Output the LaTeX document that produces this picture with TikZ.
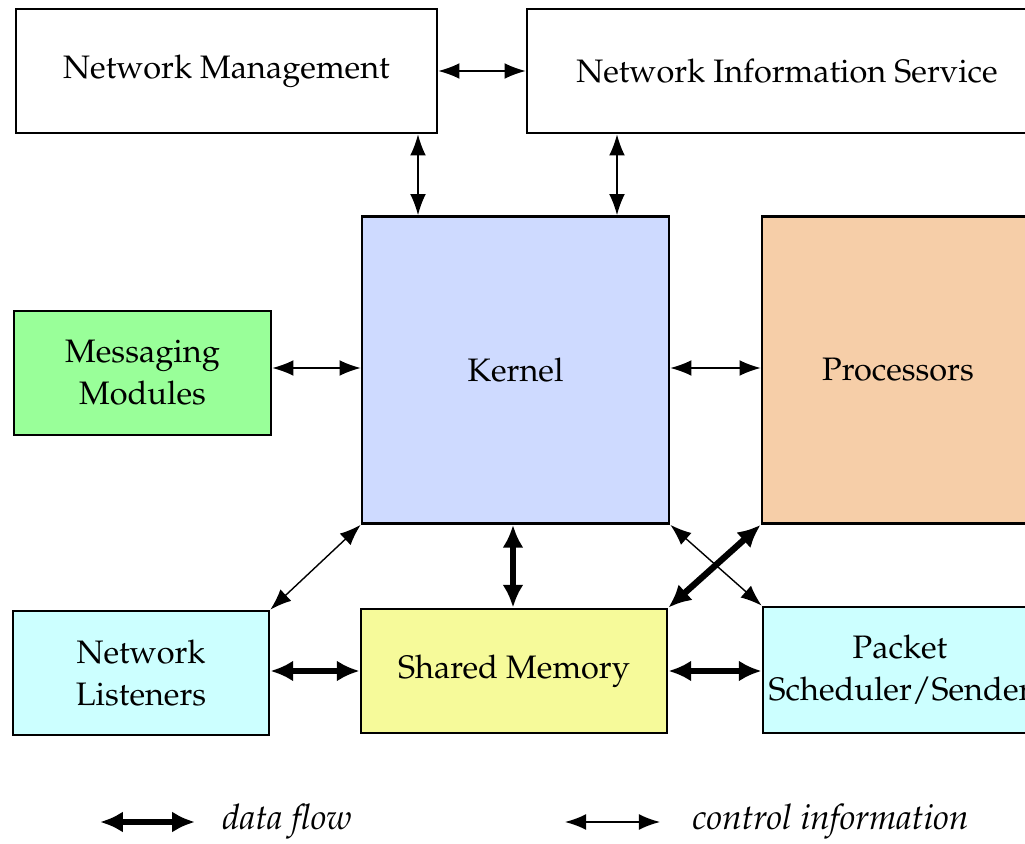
\documentclass[tikz,border=0pt]{standalone}
\usepackage[T1]{fontenc}
\usepackage{mathpazo}
\usetikzlibrary{arrows.meta}
\definecolor{kernelc}{RGB}{206,218,255}
\definecolor{procc}{RGB}{246,206,168}
\definecolor{msgc}{RGB}{153,255,153}
\definecolor{cyanc}{RGB}{204,255,255}
\definecolor{shmc}{RGB}{246,250,154}
\begin{document}
\begin{tikzpicture}[x=0.02cm,y=-0.02cm,
 box/.style={draw, line width=1.6pt, align=center, font=\fontsize{18.5}{24}\selectfont, inner sep=0pt},
 ctl/.style={{Latex[length=12pt,width=9pt]}-{Latex[length=12pt,width=9pt]}, line width=0.8pt},
 dat/.style={{Latex[length=13pt,width=12pt]}-{Latex[length=13pt,width=12pt]}, line width=3.6pt},
 lbl/.style={font=\fontsize{20}{24}\selectfont\itshape, anchor=west, inner sep=0pt}]
\useasboundingbox (0,0) rectangle (1025,844);
\clip (0,0) rectangle (1025,844);
\node[box, minimum width=8.42cm, minimum height=2.48cm] (nm) at (226.5,71) {Network Management};
\node[box, minimum width=10.4cm, minimum height=2.48cm] (nis) at (787,71) {Network Information Service};
\node[box, fill=kernelc, minimum width=6.14cm, minimum height=6.14cm] (kernel) at (515.5,370) {Kernel};
\node[box, fill=procc, minimum width=5.44cm, minimum height=6.14cm] (proc) at (898,370) {Processors};
\node[box, fill=msgc, minimum width=5.14cm, minimum height=2.48cm] (mm) at (142.5,373) {Messaging\\Modules};
\node[box, fill=cyanc, minimum width=5.12cm, minimum height=2.48cm] (nl) at (141,673) {Network\\Listeners};
\node[box, fill=shmc, minimum width=6.12cm, minimum height=2.48cm] (sm) at (514,671) {Shared Memory};
\node[box, fill=cyanc, minimum width=5.48cm, minimum height=2.52cm] (ps) at (900,670) {Packet\\Scheduler/Sender};
\coordinate (c1) at (418,0);
\coordinate (c2) at (617,0);
\coordinate (c3) at (0,368);
\coordinate (c4) at (513,0);
\coordinate (c5) at (0,671);
\draw[ctl] (nm.east) -- (nis.west);
\draw[ctl] (nm.south -| c1) -- (kernel.north -| c1);
\draw[ctl] (nis.south -| c2) -- (kernel.north -| c2);
\draw[ctl] (mm.east |- c3) -- (kernel.west |- c3);
\draw[ctl] (kernel.east |- c3) -- (proc.west |- c3);
\draw[ctl] (kernel.south west) -- (nl.north east);
\draw[ctl] (kernel.south east) -- (ps.north west);
\draw[dat] (kernel.south -| c4) -- (sm.north -| c4);
\draw[dat] (proc.south west) -- (sm.north east);
\draw[dat] (nl.east |- c5) -- (sm.west |- c5);
\draw[dat] (sm.east |- c5) -- (ps.west |- c5);
\coordinate (l1a) at (100,822);
\coordinate (l1b) at (195,822);
\coordinate (l2a) at (565,822);
\coordinate (l2b) at (660,822);
\draw[dat] (l1a) -- (l1b);
\draw[ctl] (l2a) -- (l2b);
\node[lbl] (t1) at (222,822) {data flow};
\node[lbl] (t2) at (692,822) {control information};
\end{tikzpicture}
\end{document}
